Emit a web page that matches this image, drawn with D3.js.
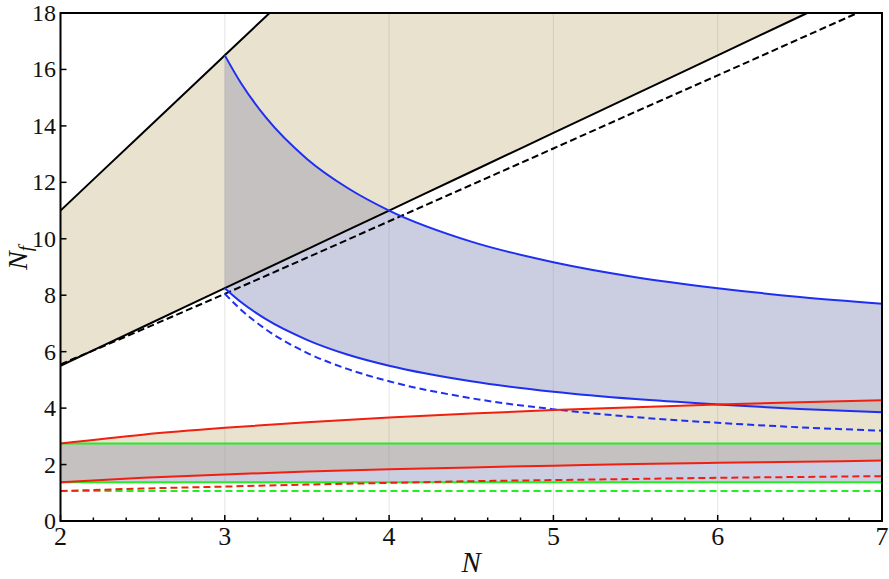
<!DOCTYPE html>
<html>
<head>
<meta charset="utf-8">
<script src="https://cdn.jsdelivr.net/npm/d3@7"></script>
<style>
  body { margin: 0; background: #fff; }
</style>
</head>
<body>
<div id="chart"></div>
<script>
// grids of N
const nGrid = [2, 2.5, 3, 3.5, 4, 4.5, 5, 5.5, 6, 6.5, 7];
const nA2 = [3, 3.1, 3.25, 3.5, 3.75, 4, 4.5, 5, 5.5, 6, 6.5, 7];

// fundamental (black)
const fundUpper = [11, 13.75, 16.5, 19.25, 22, 24.75, 27.5, 30.25, 33, 35.75, 38.5];
const fundLower = [5.5, 6.875, 8.25, 9.625, 11, 12.375, 13.75, 15.125, 16.5, 17.875, 19.25];
const fundDash  = [5.55, 6.79, 8.05, 9.33, 10.62, 11.91, 13.2, 14.5, 15.79, 17.09, 18.39];

// two-index antisymmetric (blue)
const a2Upper = [16.5, 15.5, 14.3, 12.83, 11.79, 11, 9.9, 9.17, 8.64, 8.25, 7.94, 7.7];
const a2Lower = [8.25, 7.75, 7.15, 6.42, 5.89, 5.5, 4.95, 4.58, 4.32, 4.13, 3.97, 3.85];
const a2Dash  = [8.05, 7.48, 6.79, 5.96, 5.38, 4.95, 4.35, 3.96, 3.68, 3.48, 3.32, 3.2];

// two-index symmetric (red)
const s2Upper = [2.75, 3.06, 3.3, 3.5, 3.67, 3.81, 3.93, 4.03, 4.13, 4.21, 4.28];
const s2Lower = [1.375, 1.53, 1.65, 1.75, 1.83, 1.9, 1.96, 2.02, 2.06, 2.1, 2.14];
const s2Dash  = [1.06, 1.15, 1.22, 1.29, 1.35, 1.41, 1.45, 1.49, 1.53, 1.56, 1.59];

// adjoint (green)
const adjUpper = [2.75, 2.75, 2.75, 2.75, 2.75, 2.75, 2.75, 2.75, 2.75, 2.75, 2.75];
const adjLower = [1.375, 1.375, 1.375, 1.375, 1.375, 1.375, 1.375, 1.375, 1.375, 1.375, 1.375];
const adjDash  = [1.06, 1.06, 1.06, 1.06, 1.06, 1.06, 1.06, 1.06, 1.06, 1.06, 1.06];

const xTicks = [2, 3, 4, 5, 6, 7];
const yTicks = [0, 2, 4, 6, 8, 10, 12, 14, 16, 18];

const width = 889, height = 579;
const mLeft = 60.5, mRight = 882, mTop = 13, mBottom = 521;
const serif = "'Liberation Serif', 'Times New Roman', Times, serif";

const svg = d3.select("#chart").append("svg")
    .attr("width", width)
    .attr("height", height)
    .attr("font-family", serif);

const x = d3.scaleLinear().domain([2, 7]).range([mLeft, mRight]);
const y = d3.scaleLinear().domain([0, 18]).range([mBottom, mTop]);

const zip = (ns, lo, hi) => ns.map((n, i) => ({n: n, lo: lo[i], hi: hi ? hi[i] : null}));

let defs = svg.append("defs");
defs.append("clipPath").attr("id", "plotClip")
  .append("rect")
    .attr("x", mLeft).attr("y", mTop)
    .attr("width", mRight - mLeft).attr("height", mBottom - mTop);

let area = d3.area()
    .x(d => x(d.n))
    .y0(d => y(d.lo))
    .y1(d => y(d.hi))
    .curve(d3.curveMonotoneX);

let line = d3.line()
    .x(d => x(d.n))
    .y(d => y(d.lo))
    .curve(d3.curveMonotoneX);

const tan = "#e8e2cf", lav = "#cbcde0", grey = "#c5c1c0";

const fundBand = zip(nGrid, fundLower, fundUpper);
const s2Band = zip(nGrid, s2Lower, s2Upper);
const a2Band = zip(nA2, a2Lower, a2Upper);
const adjBand = zip(nGrid, adjLower, adjUpper);

// union of the blue bands, used to mark overlaps
let blueClip = defs.append("clipPath").attr("id", "blueClip");
[a2Band, adjBand].forEach(b => blueClip.append("path").attr("d", area(b)));

let plot = svg.append("g").attr("clip-path", "url(#plotClip)");

[fundBand, s2Band].forEach(b => plot.append("path").attr("d", area(b)).attr("fill", tan));
[a2Band, adjBand].forEach(b => plot.append("path").attr("d", area(b)).attr("fill", lav));

let overlap = plot.append("g").attr("clip-path", "url(#blueClip)");
[fundBand, s2Band].forEach(b => overlap.append("path").attr("d", area(b)).attr("fill", grey));

// vertical grid lines
plot.selectAll(".grid")
  .data(xTicks.slice(1, -1))
  .enter().append("line")
    .attr("x1", d => x(d)).attr("x2", d => x(d))
    .attr("y1", mTop).attr("y2", mBottom)
    .attr("stroke", "#999")
    .attr("stroke-opacity", 0.25)
    .attr("stroke-width", 1);

// curves
const curves = [
  {ns: nGrid, v: fundUpper, c: "#000", dash: null},
  {ns: nGrid, v: fundLower, c: "#000", dash: null},
  {ns: nGrid, v: fundDash,  c: "#000", dash: "7,3.5"},
  {ns: nA2,   v: a2Upper,   c: "#1f2ff0", dash: null},
  {ns: nA2,   v: a2Lower,   c: "#1f2ff0", dash: null},
  {ns: nA2,   v: a2Dash,    c: "#1f2ff0", dash: "7,4"},
  {ns: nGrid, v: adjUpper,  c: "#22ee22", dash: null},
  {ns: nGrid, v: adjLower,  c: "#22ee22", dash: null},
  {ns: nGrid, v: adjDash,   c: "#22ee22", dash: "7,4"},
  {ns: nGrid, v: s2Upper,   c: "#f02010", dash: null},
  {ns: nGrid, v: s2Lower,   c: "#f02010", dash: null},
  {ns: nGrid, v: s2Dash,    c: "#f02010", dash: "7,4"}
];

curves.forEach(cv => {
  plot.append("path")
    .attr("d", line(zip(cv.ns, cv.v)))
    .attr("fill", "none")
    .attr("stroke", cv.c)
    .attr("stroke-width", 2)
    .attr("stroke-dasharray", cv.dash);
});

// frame
svg.append("rect")
    .attr("x", mLeft).attr("y", mTop)
    .attr("width", mRight - mLeft).attr("height", mBottom - mTop)
    .attr("fill", "none")
    .attr("stroke", "#000")
    .attr("stroke-width", 2);

// x ticks (inside), minor every 0.2
let minor = d3.range(2, 7.001, 0.2);
svg.selectAll(".xt")
  .data(minor)
  .enter().append("line")
    .attr("x1", d => x(d)).attr("x2", d => x(d))
    .attr("y1", mBottom)
    .attr("y2", d => Math.abs(d - Math.round(d)) < 1e-6 ? mBottom - 6 : mBottom - 3.5)
    .attr("stroke", "#000")
    .attr("stroke-width", 1.5);

svg.selectAll(".xl")
  .data(xTicks)
  .enter().append("text")
    .attr("x", d => x(d))
    .attr("y", 545)
    .attr("text-anchor", "middle")
    .attr("font-family", serif)
    .attr("font-size", 26)
    .attr("fill", "#111")
    .text(d => d);

// y ticks
svg.selectAll(".yt")
  .data(yTicks)
  .enter().append("line")
    .attr("x1", mLeft).attr("x2", mLeft + 6)
    .attr("y1", d => y(d)).attr("y2", d => y(d))
    .attr("stroke", "#000")
    .attr("stroke-width", 1.5);

svg.selectAll(".yl")
  .data(yTicks)
  .enter().append("text")
    .attr("x", 56)
    .attr("y", d => y(d) + 8)
    .attr("text-anchor", "end")
    .attr("font-family", serif)
    .attr("font-size", 24)
    .attr("fill", "#111")
    .text(d => d);

// axis titles
svg.append("text")
    .attr("x", (mLeft + mRight) / 2)
    .attr("y", 572)
    .attr("text-anchor", "middle")
    .attr("font-family", serif)
    .attr("font-size", 29)
    .attr("font-style", "italic")
    .attr("fill", "#111")
    .text("N");

let yl = svg.append("text")
    .attr("transform", "translate(27,258) rotate(-90)")
    .attr("text-anchor", "middle")
    .attr("font-family", serif)
    .attr("font-size", 28)
    .attr("font-style", "italic")
    .attr("fill", "#111");
yl.append("tspan").text("N");
yl.append("tspan").attr("font-size", 19).attr("dy", 5).text("f");
</script>
</body>
</html>
